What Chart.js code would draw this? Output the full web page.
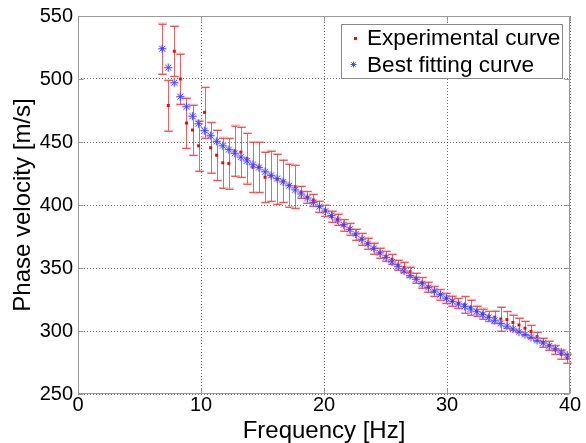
<!DOCTYPE html>
<html><head><meta charset="utf-8">
<script src="https://cdn.jsdelivr.net/npm/chart.js@4.4.0/dist/chart.umd.min.js"></script>
<style>html,body{margin:0;padding:0;background:#fff;}#wrap{width:586px;height:443px;}</style>
</head><body><div id="wrap"><canvas id="c" width="586" height="443"></canvas></div>
<script>
// ---- data ----
const frequencies = [6.85,7.34,7.83,8.32,8.82,9.31,9.80,10.29,10.78,11.27,11.77,12.26,12.75,13.24,13.73,14.22,14.71,15.21,15.70,16.19,16.68,17.17,17.66,18.15,18.65,19.14,19.63,20.12,20.61,21.10,21.60,22.09,22.58,23.07,23.56,24.05,24.54,25.04,25.53,26.02,26.51,27.00,27.49,27.98,28.48,28.97,29.46,29.95,30.44,30.93,31.43,31.92,32.41,32.90,33.39,33.88,34.37,34.87,35.36,35.85,36.34,36.83,37.32,37.81,38.31,38.80,39.29,39.78];
const experimentalVelocity = [524,479,522,500,465,459.5,447,473.5,445.5,439.5,433.5,433,443,442,437,430,430,422,423,420.5,419,415.7,414.5,410.3,406.3,404,398.7,395.5,391,388.5,384,381,376.5,373,369.5,365.6,362,359.3,357,352.4,350.5,347,342,338.5,335,331.5,329,326,324,322,320.9,318.8,316,313.8,311.6,311,309.5,309,306.8,304.8,302.2,299.6,295.6,291,288.5,285,281.5,278.3];
const experimentalError = [20,20,20,20,20,20,20,20,20,20,20,20,20,20,20,20,20,20,20,20,17,17,17,4.5,4.5,4.5,4.5,4.5,4.5,4.5,4.5,4.5,4.5,4.5,4.5,4.5,4,4,4,4,4,4,4,4,4,4,4,4,4,4,6.5,6,4,4,4,5,9.5,6.5,6,5.5,5.5,5,3.5,3.5,3.5,3.5,3.5,3.5];
const fittedVelocity = [524,509,497,486,478,470.5,464.5,459,455,450.5,447,444,441,438,435,432,429.7,426.4,423.5,421,418.3,415.3,412,408.7,405.5,402,398.7,395.2,391.7,388.1,384.4,380.7,377,372.8,369.3,365.6,362,358.4,354.8,351.3,347.6,344.1,341,337.5,334.6,331.7,328.8,326,323.5,321.4,319.5,317.5,315.3,313,310.8,308.5,306,303.8,301.6,299.3,297.2,295,292.6,290.5,288.2,286,283.3,280.8];
const xTickValues = [0,10,20,30,40];
const yTickValues = [250,300,350,400,450,500,550];
const seriesLabels = ['Experimental curve','Best fitting curve'];
const xTitle = 'Frequency [Hz]';
const yTitle = 'Phase velocity [m/s]';

const FONT = "'Liberation Sans', Arial, sans-serif";
const pts = (ys) => frequencies.map((f,i)=>({x:f,y:ys[i]}));

const errorBars = {
  id:'errorBars',
  beforeDatasetsDraw(chart){
    const {ctx, scales:{x, y}} = chart;
    ctx.save();
    frequencies.forEach((f,i)=>{
      const px = Math.round(x.getPixelForValue(f))+0.5;
      const t = y.getPixelForValue(experimentalVelocity[i]+experimentalError[i]);
      const b = y.getPixelForValue(experimentalVelocity[i]-experimentalError[i]);
      ctx.strokeStyle='rgba(255,170,170,0.9)'; ctx.lineWidth=2;
      ctx.beginPath(); ctx.moveTo(px-4.5,t); ctx.lineTo(px+4.5,t); ctx.moveTo(px-4.5,b); ctx.lineTo(px+4.5,b); ctx.stroke();
      ctx.strokeStyle='rgba(235,70,70,0.85)'; ctx.lineWidth=1;
      ctx.beginPath(); ctx.moveTo(px,t); ctx.lineTo(px,b);
      ctx.moveTo(px-4,Math.round(t)+0.5); ctx.lineTo(px+4,Math.round(t)+0.5);
      ctx.moveTo(px-4,Math.round(b)+0.5); ctx.lineTo(px+4,Math.round(b)+0.5);
      ctx.stroke();
    });
    ctx.restore();
  }
};

const boxAndLegend = {
  id:'boxAndLegend',
  afterDraw(chart){
    const {ctx, chartArea:a, scales:{x,y}} = chart;
    ctx.save();
    ctx.strokeStyle='#9a9a9a'; ctx.lineWidth=1;
    const L=Math.round(a.left)+0.5, R=Math.round(a.right)-0.5, T=Math.round(a.top)+0.5, B=Math.round(a.bottom)-0.5;
    ctx.strokeRect(L,T,R-L,B-T);
    ctx.beginPath();
    xTickValues.forEach(v=>{const p=Math.round(x.getPixelForValue(v))+0.5; ctx.moveTo(p,B); ctx.lineTo(p,B-5); ctx.moveTo(p,T); ctx.lineTo(p,T+5);});
    yTickValues.forEach(v=>{const p=Math.round(y.getPixelForValue(v))+0.5; ctx.moveTo(L,p); ctx.lineTo(L+5,p); ctx.moveTo(R,p); ctx.lineTo(R-5,p);});
    ctx.stroke();
    // legend
    ctx.fillStyle='#fff'; ctx.fillRect(341,24,221,54);
    ctx.strokeStyle='#8a8a8a'; ctx.strokeRect(341.5,24.5,221,54);
    ctx.fillStyle='#000'; ctx.font='22.6px '+FONT; ctx.textBaseline='alphabetic'; ctx.textAlign='left';
    ctx.fillText(seriesLabels[0],367,45);
    ctx.fillText(seriesLabels[1],367,72);
    ctx.fillStyle='#ff0000'; ctx.fillRect(354,37,3,3);
    ctx.strokeStyle='rgba(60,60,255,0.9)'; ctx.lineWidth=1;
    const sx=353.5, sy=64.5, r=3;
    ctx.beginPath();
    ctx.moveTo(sx-r,sy); ctx.lineTo(sx+r,sy); ctx.moveTo(sx,sy-r); ctx.lineTo(sx,sy+r);
    ctx.moveTo(sx-2.2,sy-2.2); ctx.lineTo(sx+2.2,sy+2.2); ctx.moveTo(sx-2.2,sy+2.2); ctx.lineTo(sx+2.2,sy-2.2);
    ctx.stroke();
    ctx.restore();
  }
};

new Chart(document.getElementById('c'), {
  type:'scatter',
  data:{datasets:[
    {label:seriesLabels[1]+' halo', data:pts(fittedVelocity), pointStyle:'star', radius:4.5, borderColor:'rgba(150,150,255,0.25)', borderWidth:2.5, backgroundColor:'transparent', showLine:false},
    {label:seriesLabels[1], data:pts(fittedVelocity), pointStyle:'star', radius:4, borderColor:'rgba(30,30,255,0.85)', borderWidth:1, backgroundColor:'transparent', showLine:false},
    {label:seriesLabels[0], data:pts(experimentalVelocity), pointStyle:'rect', radius:2.1, backgroundColor:'#ff0000', borderWidth:0, showLine:false}
  ]},
  options:{
    responsive:false, animation:false, devicePixelRatio:1,
    layout:{padding:{top:15,right:16,left:0,bottom:0}},
    plugins:{legend:{display:false}, tooltip:{enabled:false}},
    scales:{
      x:{type:'linear', min:0, max:40,
         afterBuildTicks(s){ s.ticks = xTickValues.map(v=>({value:v})); },
         afterFit(s){ s.height = 49; },
         ticks:{font:{family:FONT,size:20,lineHeight:1.1}, color:'#000', padding:0, maxRotation:0},
         grid:{color:'rgba(60,60,60,0.75)', lineWidth:1, drawTicks:false},
         border:{display:false, dash:[1,2]},
         title:{display:true, text:xTitle, font:{family:FONT,size:24,lineHeight:1}, color:'#000', padding:{top:0,bottom:0}}
      },
      y:{type:'linear', min:250, max:550,
         afterBuildTicks(s){ s.ticks = yTickValues.map(v=>({value:v})); },
         afterFit(s){ s.width = 78; },
         ticks:{font:{family:FONT,size:20,lineHeight:1.1}, color:'#000', padding:5},
         grid:{color:'rgba(60,60,60,0.75)', lineWidth:1, drawTicks:false},
         border:{display:false, dash:[1,2]},
         title:{display:true, text:yTitle, font:{family:FONT,size:24,lineHeight:1}, color:'#000', padding:{top:11,bottom:0}}
      }
    }
  },
  plugins:[errorBars, boxAndLegend]
});
</script></body></html>
